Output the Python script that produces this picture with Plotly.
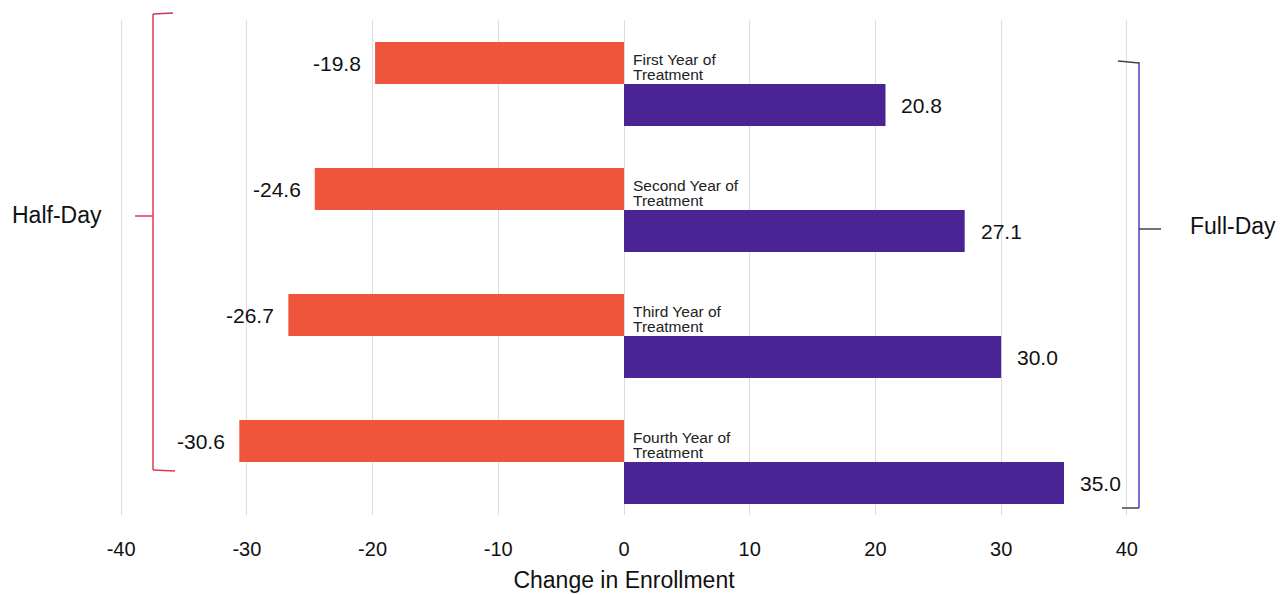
import plotly.graph_objects as go

categories = ["First Year of<br>Treatment", "Second Year of<br>Treatment",
              "Third Year of<br>Treatment", "Fourth Year of<br>Treatment"]
half_day = [-19.8, -24.6, -26.7, -30.6]
full_day = [20.8, 27.1, 30.0, 35.0]
x_ticks = [-40, -30, -20, -10, 0, 10, 20, 30, 40]
x_tick_labels = [str(v) for v in x_ticks]

RED = "#EE553A"
PURPLE = "#4A2395"
FONT = "Arial, Liberation Sans, sans-serif"

OFF = 8  # page body margin
W, H = 1286, 595
L, T = 88, 12
PW, PH = 1056, 495
R, B = W - L - PW, H - T - PH

def px(x):
    return (x - OFF - L) / PW

def py(y):
    return 1 - (y - OFF - T) / PH

pos = list(range(len(categories)))

fig = go.Figure()
fig.add_trace(go.Bar(y=pos, x=half_day, orientation="h", marker_color=RED,
                     marker_line_width=0, name="Half-Day", showlegend=False))
fig.add_trace(go.Bar(y=pos, x=full_day, orientation="h", marker_color=PURPLE,
                     marker_line_width=0, name="Full-Day", showlegend=False))

annotations = []
for i, (c, h, f) in enumerate(zip(categories, half_day, full_day)):
    lines = c.split("<br>")
    for j, line in enumerate(lines):
        annotations.append(dict(x=0, y=i, xref="x", yref="y", text=line, showarrow=False,
                                xanchor="left", yanchor="middle", align="left",
                                xshift=7, yshift=25 - 15 * j,
                                font=dict(size=15.5, color="#222", family=FONT)))
    annotations.append(dict(x=h, y=i - 1/6, xref="x", yref="y", text=f"{h:.1f}",
                            showarrow=False, xanchor="right", xshift=-12,
                            font=dict(size=21, color="#111", family=FONT)))
    annotations.append(dict(x=f, y=i + 1/6, xref="x", yref="y", text=f"{f:.1f}",
                            showarrow=False, xanchor="left", xshift=14,
                            font=dict(size=21, color="#111", family=FONT)))

annotations.append(dict(x=px(57), y=py(215), xref="paper", yref="paper", text="Half-Day",
                        showarrow=False, xanchor="center", yanchor="middle",
                        font=dict(size=23, color="#111", family=FONT)))
annotations.append(dict(x=px(1233), y=py(226), xref="paper", yref="paper", text="Full-Day",
                        showarrow=False, xanchor="center", yanchor="middle",
                        font=dict(size=23, color="#111", family=FONT)))

shapes = []
def seg(x0, y0, x1, y1, color, width=1.5):
    shapes.append(dict(type="line", xref="paper", yref="paper",
                       x0=px(x0), y0=py(y0), x1=px(x1), y1=py(y1),
                       line=dict(color=color, width=width)))

# left (half-day) bracket
seg(153, 14, 153, 470, "#E8374F")
seg(153, 14, 173, 13, "#C23A5A")
seg(153, 470, 175, 471, "#E8374F")
seg(135, 216, 153, 216, "#E8374F")
# right (full-day) bracket
seg(1139, 62, 1139, 508, "#4B3FC0")
seg(1118, 61, 1139, 63, "#444")
seg(1122, 508, 1139, 508, "#444")
seg(1139, 229, 1161, 229, "#444")

fig.update_layout(
    width=W, height=H,
    margin=dict(l=L, r=R, t=T, b=B),
    paper_bgcolor="white", plot_bgcolor="white",
    barmode="group", bargap=1/3, bargroupgap=0,
    font=dict(family=FONT, color="#111"),
    xaxis=dict(range=[-42, 42], tickvals=x_ticks, ticktext=x_tick_labels, showgrid=True,
               gridcolor="#DCDCE4", gridwidth=1.2, zeroline=True,
               zerolinecolor="#DCDCE4", zerolinewidth=1.2, showline=False,
               ticks="", ticklabelstandoff=20,
               tickfont=dict(size=20, color="#111", family=FONT),
               title=dict(text="Change in Enrollment", standoff=12,
                          font=dict(size=23, color="#111", family=FONT))),
    yaxis=dict(range=[3.42, -0.508], showgrid=False, zeroline=False,
               showticklabels=False, ticks="", showline=False),
    annotations=annotations,
    shapes=shapes,
)

fig.write_html("out.html")
